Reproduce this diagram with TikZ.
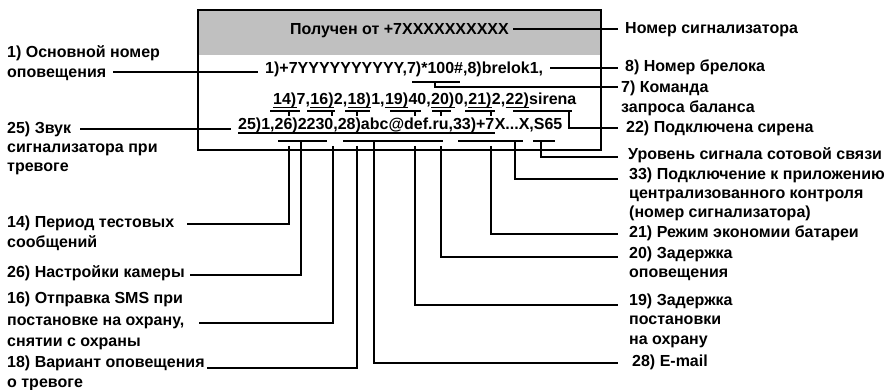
\documentclass[tikz,border=0pt]{standalone}
\usepackage{fontspec}
\setmainfont{Liberation Sans}
\definecolor{boxgray}{RGB}{192,192,192}
\tikzset{
  lbl/.style={anchor=west, inner sep=0pt, text height=11.5pt, text depth=3.4pt,
    font=\bfseries\fontsize{16}{19.5}\selectfont},
  rowtxt/.style={anchor=base west, inner sep=0pt,
    font=\bfseries\fontsize{16}{19.5}\selectfont},
  conn/.style={line width=1.25pt, line cap=butt},
  uline/.style={line width=1.1pt},
}
\begin{document}
\begin{tikzpicture}[x=1pt,y=-1pt]
\useasboundingbox (0,0) rectangle (887,390);
% box
\fill[boxgray] (198,10) rectangle (601,55);
\draw[line width=1.5pt] (198,10) rectangle (601,150);

% texts in the box
\node[rowtxt] (title) at (290,35) {Получен от +7XXXXXXXXXX};
\node[rowtxt] (row1) at (265,74) {1)+7YYYYYYYYYY,7)*100\#,8)brelok1,};

\node[rowtxt] (a14) at (273,105) {14)};
\node[rowtxt] (b14) at (a14.base east) {7,};
\node[rowtxt] (a16) at (b14.base east) {16)};
\node[rowtxt] (b16) at (a16.base east) {2,};
\node[rowtxt] (a18) at (b16.base east) {18)};
\node[rowtxt] (b18) at (a18.base east) {1,};
\node[rowtxt] (a19) at (b18.base east) {19)};
\node[rowtxt] (b19) at (a19.base east) {40,};
\node[rowtxt] (a20) at (b19.base east) {20)};
\node[rowtxt] (b20) at (a20.base east) {0,};
\node[rowtxt] (a21) at (b20.base east) {21)};
\node[rowtxt] (b21) at (a21.base east) {2,};
\node[rowtxt] (a22) at (b21.base east) {22)};
\node[rowtxt] (b22) at (a22.base east) {sirena};
\foreach \n in {a14,a16,a18,a19,a20,a21,a22}
  \draw[uline] ([yshift=-2.5pt]\n.base west) -- ([yshift=-2.5pt]\n.base east);

\node[rowtxt] (r3a) at (238,130) {25)1,26)2230,28)abc@def.ru,33)+7};
\node[rowtxt] (r3b) at (r3a.base east) {X...X,S65};
\draw[uline] ([yshift=-3pt]r3a.base west) -- ([yshift=-3pt]r3a.base east);

% left labels
\node[lbl] (l1a) at (7,53) {1) Основной номер};
\node[lbl] (l1b) at (7,73) {оповещения};
\node[lbl] (l25a) at (7,129) {25) Звук};
\node[lbl] (l25b) at (7,148) {сигнализатора при};
\node[lbl] (l25c) at (7,167) {тревоге};
\node[lbl] (l14a) at (7,223) {14) Период тестовых};
\node[lbl] (l14b) at (7,243) {сообщений};
\node[lbl] (l26) at (7,273) {26) Настройки камеры};
\node[lbl] (l16a) at (7,299) {16) Отправка SMS при};
\node[lbl] (l16b) at (7,321) {постановке на охрану,};
\node[lbl] (l16c) at (7,342) {снятии с охраны};
\node[lbl] (l18a) at (7,363) {18) Вариант оповещения};
\node[lbl] (l18b) at (7,383) {о тревоге};

% right labels
\node[lbl] (rnum) at (625,29) {Номер сигнализатора};
\node[lbl] (r8) at (625,67) {8) Номер брелока};
\node[lbl] (r7a) at (621,88) {7) Команда};
\node[lbl] (r7b) at (621,108) {запроса баланса};
\node[lbl] (r22) at (626,128) {22) Подключена сирена};
\node[lbl] (rsig) at (628,155) {Уровень сигнала сотовой связи};
\node[lbl] (r33a) at (629,175) {33) Подключение к приложению};
\node[lbl] (r33b) at (629,194) {централизованного контроля};
\node[lbl] (r33c) at (629,213) {(номер сигнализатора)};
\node[lbl] (r21) at (629,233) {21) Режим экономии батареи};
\node[lbl] (r20a) at (629,254) {20) Задержка};
\node[lbl] (r20b) at (629,273) {оповещения};
\node[lbl] (r19a) at (629,301) {19) Задержка};
\node[lbl] (r19b) at (629,320) {постановки};
\node[lbl] (r19c) at (629,340) {на охрану};
\node[lbl] (r28) at (632,362) {28) E-mail};

% connector end points
\coordinate (eNum) at (618,29);
\coordinate (e8) at (618,68);
\coordinate (e7) at (618,87);
\coordinate (e22) at (618,128);
\coordinate (eSig) at (618,157);
\coordinate (e33) at (618,179);
\coordinate (e21) at (618,234);
\coordinate (e20) at (618,257);
\coordinate (e19) at (618,305);
\coordinate (e28) at (618,363);
\coordinate (s1) at (113,72);
\coordinate (s25) at (80,129);
\coordinate (s14) at (187,224);
\coordinate (s26) at (190,275);
\coordinate (s16) at (199,323);
\coordinate (s18) at (207,368);

% top connectors
\draw[conn] ([xshift=4pt]title.east |- eNum) -- (eNum);
\draw[conn] (s1) -- ([xshift=-7pt]row1.west |- s1);
\draw[conn] ([xshift=7pt]row1.east |- e8) -- (e8);
\draw[conn] (412,82) -- (460,82);
\draw[conn] (435,82) |- (e7);
\draw[conn] (s25) -- ([xshift=-7pt]r3a.west |- s25);

% row 2 brackets
\draw[conn] (270,111) -- (300,111);
\draw[conn] (307,111) -- (335,111);
\draw[conn] (345,111) -- (370,111);
\draw[conn] (390,111) -- (421,111);
\draw[conn] (432,111) -- (451,111);
\draw[conn] (465,111) -- (495,111);
\draw[conn] (513,111) -- (572,111);
\foreach \x in {289,332,357,415,441,491}
  \draw[conn] (\x,111) -- (\x,116);
\draw[conn] (569,111) |- (e22);

% row 3 brackets
\draw[conn] (278,141) -- (327,141);
\draw[conn] (343,141) -- (443,141);
\draw[conn] (458,141) -- (523,141);
\draw[conn] (533,141) -- (555,141);

% lower connectors
\draw[conn] (289,146) |- (s14);
\draw[conn] (301,141) |- (s26);
\draw[conn] (333,146) |- (s16);
\draw[conn] (357,146) |- (s18);
\draw[conn] (374,141) |- (e28);
\draw[conn] (415,146) |- (e19);
\draw[conn] (441,146) |- (e20);
\draw[conn] (491,146) |- (e21);
\draw[conn] (515,141) |- (e33);
\draw[conn] (541,141) |- (eSig);
\end{tikzpicture}
\end{document}
